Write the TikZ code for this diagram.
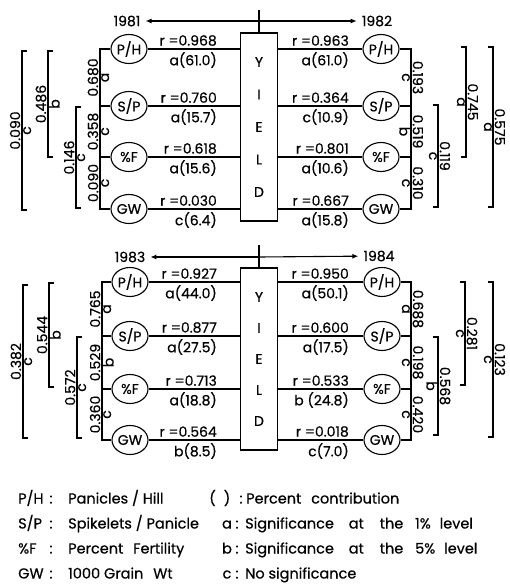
\documentclass[tikz,border=0pt]{standalone}
\usepackage{fontspec}
\setmainfont{Poppins}[FakeBold=0.5]
\usetikzlibrary{shapes.geometric,arrows.meta,calc}
\newcommand\dfont{\fontsize{14}{16}\selectfont}
\newcommand\lfont{\fontsize{14.5}{17}\selectfont}
\newcommand\fracL[4]{\node[nL] (#1n) at #2 {#3}; \node[lL] (#1l) at #2 {#4};}
\newcommand\fracR[4]{\node[nR] (#1n) at #2 {#3}; \node[lR] (#1l) at #2 {#4};}
\newcommand\brL[6]{%
  \coordinate (#1t) at (#2,#3); \coordinate (#1b) at (#2,#4);
  \draw[ln] ($(#1t)+(5,0)$) -- (#1t) -- (#1b) -- ++(5,0);
  \node[nL] (#1n) at ($(#1t)!0.5!(#1b)$) {#5};
  \node[lL] (#1l) at ($(#1t)!0.5!(#1b)$) {#6};}
\newcommand\brR[6]{%
  \coordinate (#1t) at (#2,#3); \coordinate (#1b) at (#2,#4);
  \draw[ln] ($(#1t)+(-5,0)$) -- (#1t) -- (#1b) -- ++(-5,0);
  \node[nR] (#1n) at ($(#1t)!0.5!(#1b)$) {#5};
  \node[lR] (#1l) at ($(#1t)!0.5!(#1b)$) {#6};}
\begin{document}
\begin{tikzpicture}[x=1pt,y=-1pt,
  every node/.style={font=\dfont, inner sep=1pt},
  ln/.style={line width=1.1pt},
  circ/.style={draw, ellipse, line width=1.1pt, minimum width=36pt, minimum height=29pt, inner sep=0pt},
  ybox/.style={draw, line width=1.1pt, minimum width=37pt, align=center},
  nL/.style={rotate=90, anchor=south, inner sep=1.5pt},
  lL/.style={rotate=90, anchor=north, inner sep=1pt},
  nR/.style={rotate=-90, anchor=south, inner sep=1.5pt},
  lR/.style={rotate=-90, anchor=north, inner sep=1pt},
  rup/.style={anchor=south east},
  rdn/.style={anchor=north east},
  arr/.style={ln, -{Latex[length=6pt,width=5pt]}, shorten >=4pt},
  leg/.style={anchor=base west, font=\lfont},
  legc/.style={anchor=base, font=\lfont}
]
\useasboundingbox (0,0) rectangle (510,586);

%================ 1981 / 1982 =================
\node[ybox, minimum height=188pt, font={\fontsize{14}{32.5}\selectfont}] (yd1) at (259,127) {Y\\I\\E\\L\\D};
\coordinate (st1) at (259,10);
\coordinate (cr1) at (259,21);
\draw[ln] (st1) -- (yd1.north);
\node (yr81) at (127,21) {1981};
\node (yr82) at (377,21) {1982};
\draw[arr] (cr1) -- (yr81);
\draw[arr] (cr1) -- (yr82);

% left circles
\node[circ] (ph1) at (129,49) {P/H};
\node[circ] (sp1) at (129,106) {S/P};
\node[circ] (pf1) at (129,157) {\%F};
\node[circ] (gw1) at (129,209) {GW};
\foreach \n in {ph1,sp1,pf1,gw1} \draw[ln] (\n.east) -- (\n.east -| yd1.west);
\coordinate (v1t) at (100,49); \coordinate (v1b) at (100,209);
\draw[ln] (ph1.west) -| (v1b) -- (gw1.west);
\draw[ln] (sp1.west) -- (sp1.west -| v1t);
\draw[ln] (pf1.west) -- (pf1.west -| v1t);
\node[rup] (r1a) at (218,47) {r =0.968}; \node[rdn] (p1a) at (218,51) {a(61.0)};
\node[rup] (r1b) at (218,104) {r =0.760}; \node[rdn] (p1b) at (218,108) {a(15.7)};
\node[rup] (r1c) at (218,155) {r =0.618}; \node[rdn] (p1c) at (218,159) {a(15.6)};
\node[rup] (r1d) at (218,207) {r =0.030}; \node[rdn] (p1d) at (218,211) {c(6.4)};
\fracL{f1a}{(100,77.5)}{0.680}{a}
\fracL{f1b}{(100,131.5)}{0.358}{c}
\fracL{f1c}{(100,183)}{0.090}{c}
\brL{b1a}{48}{51}{157}{0.486}{b}
\brL{b1b}{76}{107}{208}{0.146}{c}
\brL{b1c}{22}{51}{210}{0.090}{c}

% right circles
\node[circ] (ph2) at (381,49) {P/H};
\node[circ] (sp2) at (381,106) {S/P};
\node[circ] (pf2) at (381,157) {\%F};
\node[circ] (gw2) at (381,209) {GW};
\foreach \n in {ph2,sp2,pf2,gw2} \draw[ln] (\n.west) -- (\n.west -| yd1.east);
\coordinate (v2t) at (411,49); \coordinate (v2b) at (411,209);
\draw[ln] (ph2.east) -| (v2b) -- (gw2.east);
\draw[ln] (sp2.east) -- (sp2.east -| v2t);
\draw[ln] (pf2.east) -- (pf2.east -| v2t);
\node[rup] (r2a) at (350,47) {r =0.963}; \node[rdn] (p2a) at (350,51) {a(61.0)};
\node[rup] (r2b) at (350,104) {r =0.364}; \node[rdn] (p2b) at (350,108) {c(10.9)};
\node[rup] (r2c) at (350,155) {r =0.801}; \node[rdn] (p2c) at (350,159) {a(10.6)};
\node[rup] (r2d) at (350,207) {r =0.667}; \node[rdn] (p2d) at (350,211) {a(15.8)};
\fracR{f2a}{(411,77.5)}{0.193}{c}
\fracR{f2b}{(411,131.5)}{0.519}{b}
\fracR{f2c}{(411,183)}{0.310}{c}
\brR{b2a}{438}{105}{207}{0.119}{c}
\brR{b2b}{466}{47}{157}{0.745}{a}
\brR{b2c}{493}{47}{207}{0.575}{a}

%================ 1983 / 1984 =================
\node[ybox, minimum height=182pt, font={\fontsize{14}{31}\selectfont}] (yd2) at (259,359) {Y\\I\\E\\L\\D};
\coordinate (st2) at (259,245);
\coordinate (cr2) at (259,257);
\draw[ln] (st2) -- (yd2.north);
\node (yr83) at (130,257) {1983};
\node (yr84) at (379,256) {1984};
\draw[arr] (cr2) -- (yr83);
\draw[arr] (cr2) -- (yr84);

\node[circ] (ph3) at (130,282) {P/H};
\node[circ] (sp3) at (130,336) {S/P};
\node[circ] (pf3) at (130,389) {\%F};
\node[circ] (gw3) at (130,440) {GW};
\foreach \n in {ph3,sp3,pf3,gw3} \draw[ln] (\n.east) -- (\n.east -| yd2.west);
\coordinate (v3t) at (102,282); \coordinate (v3b) at (102,440);
\draw[ln] (ph3.west) -| (v3b) -- (gw3.west);
\draw[ln] (sp3.west) -- (sp3.west -| v3t);
\draw[ln] (pf3.west) -- (pf3.west -| v3t);
\node[rup] (r3a) at (218,280) {r =0.927}; \node[rdn] (p3a) at (218,284) {a(44.0)};
\node[rup] (r3b) at (218,334) {r =0.877}; \node[rdn] (p3b) at (218,338) {a(27.5)};
\node[rup] (r3c) at (218,387) {r =0.713}; \node[rdn] (p3c) at (218,391) {a(18.8)};
\node[rup] (r3d) at (218,438) {r =0.564}; \node[rdn] (p3d) at (218,442) {b(8.5)};
\fracL{f3a}{(102,309)}{0.765}{a}
\fracL{f3b}{(102,362.5)}{0.529}{b}
\fracL{f3c}{(102,414.5)}{0.360}{c}
\brL{b3a}{49}{283}{387}{0.544}{b}
\brL{b3b}{77}{337}{438}{0.572}{c}
\brL{b3c}{23}{285}{438}{0.382}{c}

\node[circ] (ph4) at (382,282) {P/H};
\node[circ] (sp4) at (382,336) {S/P};
\node[circ] (pf4) at (382,389) {\%F};
\node[circ] (gw4) at (382,440) {GW};
\foreach \n in {ph4,sp4,pf4,gw4} \draw[ln] (\n.west) -- (\n.west -| yd2.east);
\coordinate (v4t) at (411,282); \coordinate (v4b) at (411,440);
\draw[ln] (ph4.east) -| (v4b) -- (gw4.east);
\draw[ln] (sp4.east) -- (sp4.east -| v4t);
\draw[ln] (pf4.east) -- (pf4.east -| v4t);
\node[rup] (r4a) at (350,280) {r =0.950}; \node[rdn] (p4a) at (350,284) {a(50.1)};
\node[rup] (r4b) at (350,334) {r =0.600}; \node[rdn] (p4b) at (350,338) {a(17.5)};
\node[rup] (r4c) at (350,387) {r =0.533}; \node[rdn] (p4c) at (350,391) {b (24.8)};
\node[rup] (r4d) at (350,438) {r =0.018}; \node[rdn] (p4d) at (350,442) {c(7.0)};
\fracR{f4a}{(411,309)}{0.688}{a}
\fracR{f4b}{(411,362.5)}{0.198}{c}
\fracR{f4c}{(411,414.5)}{0.420}{c}
\brR{b4a}{438}{337}{435}{0.568}{b}
\brR{b4b}{465}{282}{385}{0.281}{c}
\brR{b4c}{493}{282}{437}{0.123}{c}

%================ legend =================
\node[leg] (k1) at (17,503.5) {P/H};
\node[legc] (k1c) at (51,503.5) {:};
\node[leg] (k1d) at (67,503.5) {Panicles / Hill};
\node[leg] (k2) at (17,528.5) {S/P};
\node[legc] (k2c) at (51,528.5) {:};
\node[leg] (k2d) at (67,528.5) {Spikelets / Panicle};
\node[leg] (k3) at (17,553.5) {\%F};
\node[legc] (k3c) at (51,553.5) {:};
\node[leg] (k3d) at (67,553.5) {Percent\hspace{6pt} Fertility};
\node[leg] (k4) at (17,578.5) {GW};
\node[legc] (k4c) at (51,578.5) {:};
\node[leg] (k4d) at (67,578.5) {1000 Grain\hspace{6pt} Wt};
\node[leg] (m1) at (208,503.5) {(\hspace{8pt})};
\node[legc] (m1c) at (241,503.5) {:};
\node[leg] (m1d) at (245,503.5) {Percent\hspace{6pt} contribution};
\node[legc] (m2) at (227,528.5) {a};
\node[legc] (m2c) at (237,528.5) {:};
\node[leg] (m2d) at (244,528.5) {Significance\hspace{11pt} at\hspace{12pt} the\hspace{8pt} 1\%\hspace{5pt} level};
\node[legc] (m3) at (227,553.5) {b};
\node[legc] (m3c) at (237,553.5) {:};
\node[leg] (m3d) at (244,553.5) {Significance\hspace{11pt} at\hspace{12pt} the\hspace{8pt} 5\%\hspace{5pt} level};
\node[legc] (m4) at (227,578.5) {c};
\node[legc] (m4c) at (237,578.5) {:};
\node[leg] (m4d) at (244,578.5) {No significance};
\end{tikzpicture}
\end{document}
